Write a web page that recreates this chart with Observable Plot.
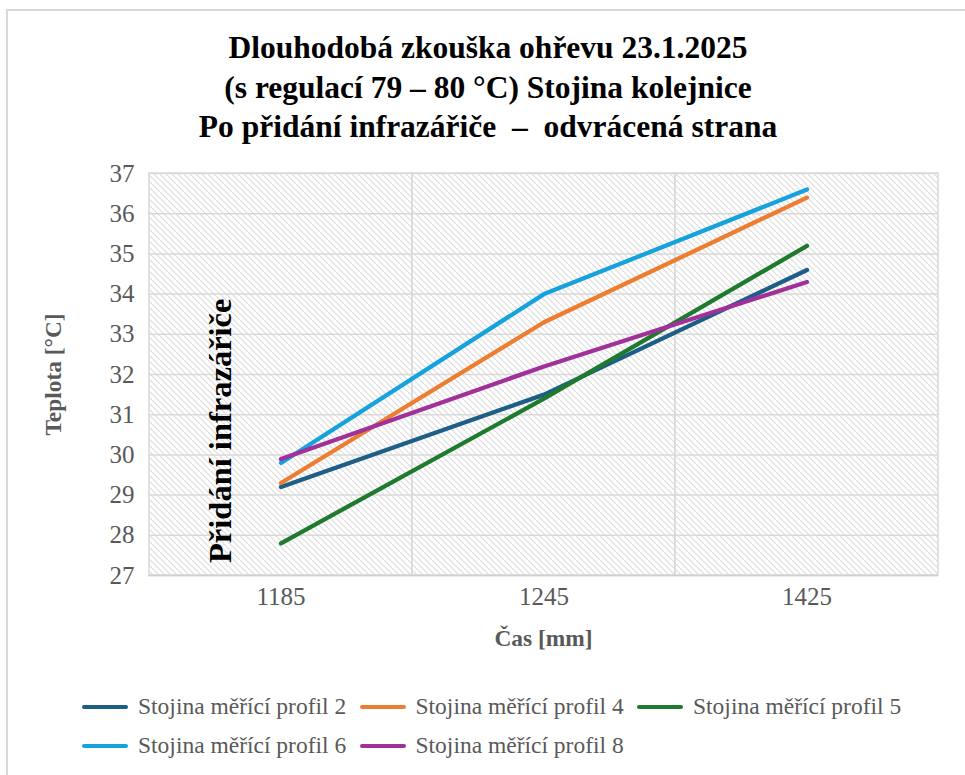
<!DOCTYPE html>
<html><head><meta charset="utf-8">
<script src="https://cdn.jsdelivr.net/npm/d3@7"></script>
<script src="https://cdn.jsdelivr.net/npm/@observablehq/plot@0.6"></script>
<style>
body{margin:0;background:#fff;font-family:"Liberation Serif","Times New Roman",serif;}
#wrap{position:relative;width:965px;height:775px;overflow:hidden;}
#border{position:absolute;left:6px;top:9px;width:1000px;height:1000px;border:2px solid #d9d9d9;box-sizing:border-box;}
#title{position:absolute;left:11px;width:954px;top:28px;text-align:center;font-weight:bold;font-size:31.5px;line-height:39.5px;color:#000;font-family:"Liberation Serif","Times New Roman",serif;}
#chart{position:absolute;left:0;top:146px;}
#legend{position:absolute;left:82px;top:687px;width:840px;display:flex;flex-wrap:wrap;}
.item{width:277.5px;height:39px;display:flex;align-items:center;font-size:23.5px;color:#595959;white-space:nowrap;}
.sw{width:46px;height:4px;border-radius:2px;margin-right:10px;flex:none;}
[aria-label="y-axis label"], [aria-label="x-axis label"]{font-size:23.4px;font-weight:bold;}
</style></head>
<body>
<div id="wrap">
  <div id="border"></div>
  <div id="title">Dlouhodobá zkouška ohřevu 23.1.2025<br>(s regulací 79 – 80 °C) Stojina kolejnice<br>Po přidání infrazářiče &nbsp;– &nbsp;odvrácená strana</div>
  <div id="chart"></div>
  <div id="legend"></div>
</div>
<script>
const categories = ["1185", "1245", "1425"];
const seriesNames = ["Stojina měřící profil 2", "Stojina měřící profil 4", "Stojina měřící profil 5", "Stojina měřící profil 6", "Stojina měřící profil 8"];
const profil2 = [29.2, 31.5, 34.6];
const profil4 = [29.3, 33.3, 36.4];
const profil5 = [27.8, 31.4, 35.2];
const profil6 = [29.8, 34.0, 36.6];
const profil8 = [29.9, 32.2, 34.3];
const yTicks = [27, 28, 29, 30, 31, 32, 33, 34, 35, 36, 37];
const colors = ["#1d5e86", "#ed7d31", "#1f7a2f", "#16a2dc", "#a0319b"];
const annotation = "Přidání infrazářiče";

const seriesValues = [profil2, profil4, profil5, profil6, profil8];
const data = seriesNames.flatMap((s, i) => categories.map((c, j) => ({series: s, x: c, y: seriesValues[i][j]})));

const chart = Plot.plot({
  width: 965, height: 520,
  marginTop: 27, marginBottom: 91, marginLeft: 148, marginRight: 27,
  style: {fontFamily: "'Liberation Serif', 'Times New Roman', serif", color: "#595959", background: "transparent"},
  x: {type: "band", domain: categories, padding: 0},
  y: {domain: [27, 37]},
  color: {domain: seriesNames, range: colors},
  marks: [
    Plot.barY(categories, {x: d => d, y1: () => 27, y2: () => 37, fill: "url(#hatch)", stroke: "#d9d9d9", strokeWidth: 1.5, inset: 0}),
    Plot.gridY(yTicks, {stroke: "#d9d9d9", strokeOpacity: 1, strokeWidth: 1.5}),
    Plot.ruleY([27], {stroke: "#d0d0d0", strokeWidth: 1.5}),
    Plot.axisY(yTicks, {tickSize: 0, tickPadding: 14, fontSize: 25, fill: "#595959", label: "Teplota [°C]", labelArrow: "none", labelAnchor: "center", labelOffset: 104}),
    Plot.axisX({tickSize: 0, tickPadding: 12, fontSize: 25, fill: "#595959", label: "Čas [mm]", labelArrow: "none", labelAnchor: "center", labelOffset: 70}),
    Plot.line(data, {x: "x", y: "y", z: "series", stroke: "series", strokeWidth: 4.3, strokeLinecap: "round"}),
    Plot.text([annotation], {x: () => "1185", y: () => 30.6, text: d => d, rotate: -90, dx: -60, fontSize: 32.5, fontWeight: "bold", fill: "#000"})
  ]
});

const defs = d3.select(chart).insert("defs", ":first-child");
const pat = defs.append("pattern").attr("id", "hatch").attr("patternUnits", "userSpaceOnUse").attr("width", 6).attr("height", 6);
pat.append("rect").attr("width", 6).attr("height", 6).attr("fill", "#fff");
pat.append("path").attr("d", "M0,0L6,6M-1,5L1,7M5,-1L7,1").attr("stroke", "#dcdcdc").attr("stroke-width", 1.1);

document.getElementById("chart").appendChild(chart);

const legend = d3.select("#legend");
seriesNames.forEach((s, i) => {
  const it = legend.append("div").attr("class", "item");
  it.append("div").attr("class", "sw").style("background", colors[i]);
  it.append("span").text(s);
});
</script>
</body></html>
